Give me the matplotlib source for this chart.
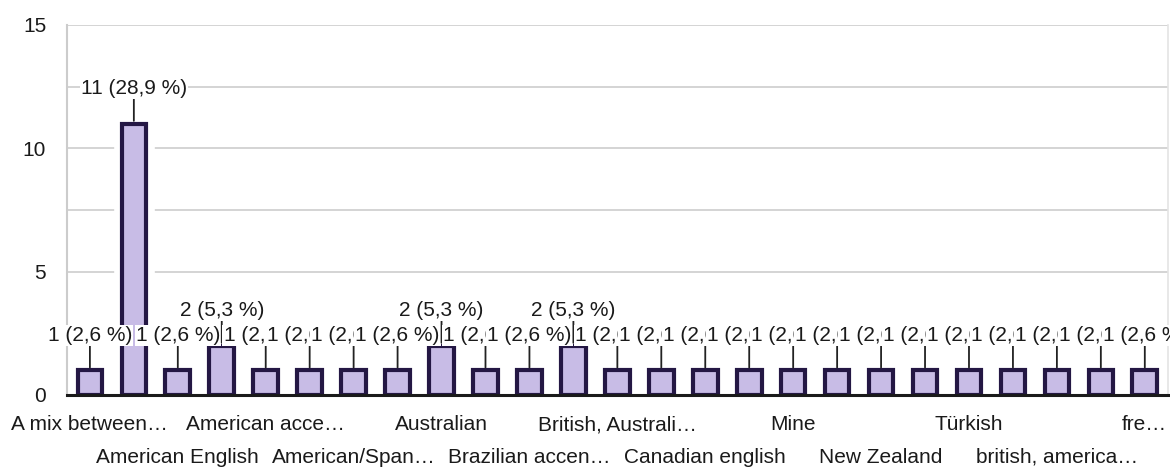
import matplotlib
matplotlib.use('Agg')
from matplotlib import pyplot as plt
from matplotlib import patheffects as pe

# answers counted per category (25 bars)
counts = [1, 11, 1, 2, 1, 1, 1, 1, 2, 1, 1, 2, 1,
          1, 1, 1, 1, 1, 1, 1, 1, 1, 1, 1, 1]
# only every second category gets a visible label, rows alternate
shown_labels = ['A mix between…', 'American English', 'American acce…',
                'American/Span…', 'Australian', 'Brazilian accen…',
                'British, Australi…', 'Canadian english', 'Mine',
                'New Zealand', 'Türkish', 'british, america…', 'fre…']
yticks = [0, 5, 10, 15]

total = sum(counts)

plt.rcParams['font.family'] = ['Liberation Sans', 'DejaVu Sans']
plt.rcParams['font.size'] = 15

fig = plt.figure(figsize=(11.7, 4.68), dpi=100)
ax = fig.add_axes([0.0573, 0.156, 0.9407, 0.7906])

xs = list(range(len(counts)))
bars = ax.bar(xs, counts, width=0.56, color='#c8bce6', edgecolor='#241744',
              linewidth=3, zorder=3)
for b in bars:
    b.set_path_effects([pe.Stroke(linewidth=12, foreground='white'), pe.Normal()])

ax.axhline(0, color='#1a1a1a', lw=2.2, zorder=4, clip_on=False)

ax.set_xlim(-0.52, len(counts) - 0.48)
ax.set_ylim(0, 15)
ax.set_yticks(yticks)
ax.set_yticks([2.5, 7.5, 12.5], minor=True)
ax.grid(axis='y', which='both', color='#d4d4d4', lw=1.4, zorder=0)
ax.tick_params(axis='y', which='both', length=0, pad=15, colors='#1a1a1a')
ax.tick_params(axis='x', length=0)
ax.set_xticks([])

for s in ['top', 'bottom']:
    ax.spines[s].set_visible(False)
ax.spines['left'].set_color('#cccccc')
ax.spines['left'].set_linewidth(1.5)
ax.spines['right'].set_color('#e4e4e4')
ax.spines['right'].set_linewidth(1.2)

# data labels with leader lines, later ones cover earlier ones
for i, v in enumerate(counts):
    pct = f'{100 * v / total:.1f}'.replace('.', ',')
    ax.annotate(f'{v} ({pct} %)', xy=(i, v), xytext=(0, 35),
                textcoords='offset pixels', ha='center', va='center',
                color='#1a1a1a', zorder=10 + i,
                bbox=dict(boxstyle='square,pad=0.05', fc='white', ec='none'),
                arrowprops=dict(arrowstyle='-', color='#222222', lw=1.3,
                                shrinkA=0, shrinkB=2))

# category labels, two alternating rows
xt = ax.get_xaxis_transform()
for k, lab in enumerate(shown_labels):
    row_y = -0.081 if k % 2 == 0 else -0.168
    ax.text(2 * k, row_y, lab, transform=xt, ha='center', va='center',
            color='#1a1a1a')

fig.savefig('out.png', dpi=100)
